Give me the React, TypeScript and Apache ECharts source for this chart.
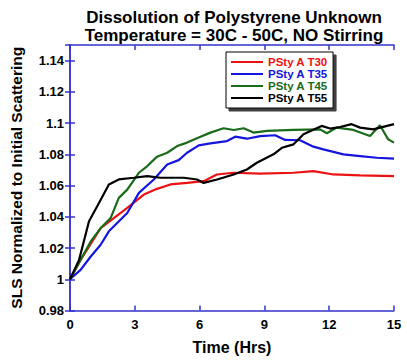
import React, { useEffect, useRef } from "react";
import * as echarts from "echarts";

const seriesNames = ["PSty A T30", "PSty A T35", "PSty A T45", "PSty A T55"];
const seriesColors = ["#ee1111", "#1515e0", "#1a6b1a", "#000000"];

const timeT30 = [0, 0.49, 1.42, 2.65, 3.42, 4.03, 4.65, 5.42, 6.19, 6.8, 7.57, 8.81, 10.35, 11.27, 12.19, 13.43, 15];
const slsT30 = [1.0, 1.0124, 1.0328, 1.0457, 1.0542, 1.0579, 1.0607, 1.0617, 1.0628, 1.0671, 1.0682, 1.0677, 1.0682, 1.0692, 1.0671, 1.0665, 1.066];

const timeT35 = [0, 0.49, 0.96, 1.42, 1.8, 2.65, 3.19, 3.88, 4.5, 5.03, 5.42, 5.96, 6.5, 7.27, 7.65, 8.19, 8.81, 9.5, 9.96, 10.65, 11.27, 11.73, 12.66, 13.43, 14.2, 15];
const slsT35 = [1.0, 1.006, 1.0146, 1.0221, 1.0307, 1.0424, 1.0553, 1.0639, 1.0735, 1.0763, 1.081, 1.0857, 1.087, 1.0885, 1.0913, 1.09, 1.0917, 1.0922, 1.0892, 1.089, 1.0849, 1.0832, 1.08, 1.0789, 1.0778, 1.0772];

const timeT45 = [0, 0.49, 0.96, 1.42, 1.88, 2.26, 2.65, 3.19, 3.58, 4.03, 4.5, 4.96, 5.42, 5.96, 6.5, 7.11, 7.58, 8.04, 8.5, 9.12, 10.35, 11.58, 11.89, 12.35, 13.12, 13.89, 14.35, 14.73, 15];
const slsT45 = [1.0, 1.0124, 1.0242, 1.0328, 1.0392, 1.0521, 1.0574, 1.0682, 1.0725, 1.0785, 1.081, 1.0853, 1.0875, 1.0907, 1.0939, 1.0967, 1.0956, 1.0967, 1.0939, 1.095, 1.0956, 1.096, 1.0935, 1.0971, 1.0956, 1.0917, 1.0986, 1.0896, 1.0875];

const timeT55 = [0, 0.42, 0.88, 1.26, 1.8, 2.26, 2.96, 3.57, 4.19, 5.27, 5.88, 6.19, 6.81, 7.58, 8.19, 8.65, 9.42, 9.81, 10.35, 10.81, 11.65, 12.04, 12.5, 13.04, 13.43, 14.04, 15];
const slsT55 = [1.0, 1.0124, 1.0371, 1.0467, 1.0607, 1.0639, 1.065, 1.066, 1.065, 1.065, 1.0639, 1.0617, 1.0639, 1.0671, 1.0703, 1.0746, 1.08, 1.0842, 1.0864, 1.0928, 1.0982, 1.0965, 1.0975, 1.0993, 1.0971, 1.096, 1.0993];

const xTicks = [0, 3, 6, 9, 12, 15];
const yTicks = [0.98, 1, 1.02, 1.04, 1.06, 1.08, 1.1, 1.12, 1.14];

const titleText = "Dissolution of Polystyrene Unknown\nTemperature = 30C - 50C, NO Stirring";
const xName = "Time (Hrs)";
const yName = "SLS Normalized to Initial Scattering";

const FONT = "'Liberation Sans', Arial, sans-serif";
const AXIS_BLUE = "#3333cc";

export default function App() {
  const ref = useRef<HTMLDivElement>(null);
  useEffect(() => {
    if (!ref.current) return;
    const chart = echarts.init(ref.current, null, { renderer: "svg" });
    const times = [timeT30, timeT35, timeT45, timeT55];
    const vals = [slsT30, slsT35, slsT45, slsT55];
    const axisCommon = {
      axisLine: { show: true, lineStyle: { color: AXIS_BLUE, width: 1.5 } },
      axisTick: { show: true, inside: true, length: 5, lineStyle: { color: AXIS_BLUE, width: 1.5 } },
      splitLine: { show: false },
    };
    const fmtY = (v: number) => {
      const r = Math.round(v * 100) / 100;
      return yTicks.some((t) => Math.abs(t - r) < 1e-9) && Math.abs(v - r) < 1e-6 ? String(r) : "";
    };
    const fmtX = (v: number) => (xTicks.includes(v) ? String(v) : "");
    chart.setOption({
      animation: false,
      backgroundColor: "#ffffff",
      title: {
        text: titleText,
        left: 229,
        top: 3,
        textAlign: "center",
        textStyle: { fontFamily: FONT, fontWeight: "bold", fontSize: 17, color: "#000", lineHeight: 18 },
      },
      grid: { left: 69, right: 13, top: 45, bottom: 51.5, containLabel: false },
      legend: {
        orient: "vertical",
        left: 226,
        top: 52,
        padding: [4, 5, 4, 5],
        itemWidth: 32,
        itemHeight: 2,
        itemGap: 0,
        icon: "rect",
        backgroundColor: "#ffffff",
        borderColor: "#000",
        borderWidth: 1,
        shadowColor: "rgba(0,0,0,0.75)",
        shadowBlur: 0,
        shadowOffsetX: 3,
        shadowOffsetY: 3,
        textStyle: { fontFamily: FONT, fontWeight: "bold", fontSize: 11.5, lineHeight: 11.7, padding: [0, 0, 0, 0] },
        data: seriesNames.map((n, i) => ({ name: n, textStyle: { color: seriesColors[i] } })),
      },
      xAxis: [
        {
          type: "value",
          min: 0,
          max: 15,
          interval: 3,
          position: "bottom",
          name: xName,
          nameLocation: "middle",
          nameGap: 29,
          nameTextStyle: { fontFamily: FONT, fontWeight: "bold", fontSize: 16, color: "#000" },
          axisLabel: { fontFamily: FONT, fontWeight: "bold", fontSize: 13, color: "#000", margin: 7, formatter: fmtX },
          ...axisCommon,
        },
        {
          type: "value",
          min: 0,
          max: 15,
          interval: 3,
          position: "top",
          axisLabel: { show: false },
          ...axisCommon,
        },
      ],
      yAxis: [
        {
          type: "value",
          min: 0.98,
          max: 1.15,
          interval: 0.02,
          position: "left",
          name: yName,
          nameLocation: "middle",
          nameGap: 46,
          nameTextStyle: { fontFamily: FONT, fontWeight: "bold", fontSize: 15.5, color: "#000" },
          axisLabel: { fontFamily: FONT, fontWeight: "bold", fontSize: 13, color: "#000", margin: 6, formatter: fmtY, showMaxLabel: false },
          ...axisCommon,
        },
        {
          type: "value",
          min: 0.98,
          max: 1.15,
          interval: 0.02,
          position: "right",
          axisLabel: { show: false },
          ...axisCommon,
        },
      ],
      series: seriesNames.map((n, i) => ({
        name: n,
        type: "line",
        xAxisIndex: 0,
        yAxisIndex: 0,
        showSymbol: false,
        symbol: "none",
        color: seriesColors[i],
        lineStyle: { width: 2.2, color: seriesColors[i] },
        data: times[i].map((t, j) => [t, vals[i][j]]),
      })),
    });
    return () => chart.dispose();
  }, []);
  return <div ref={ref} style={{ width: 407, height: 362, position: "absolute", left: 0, top: 0 }} />;
}
